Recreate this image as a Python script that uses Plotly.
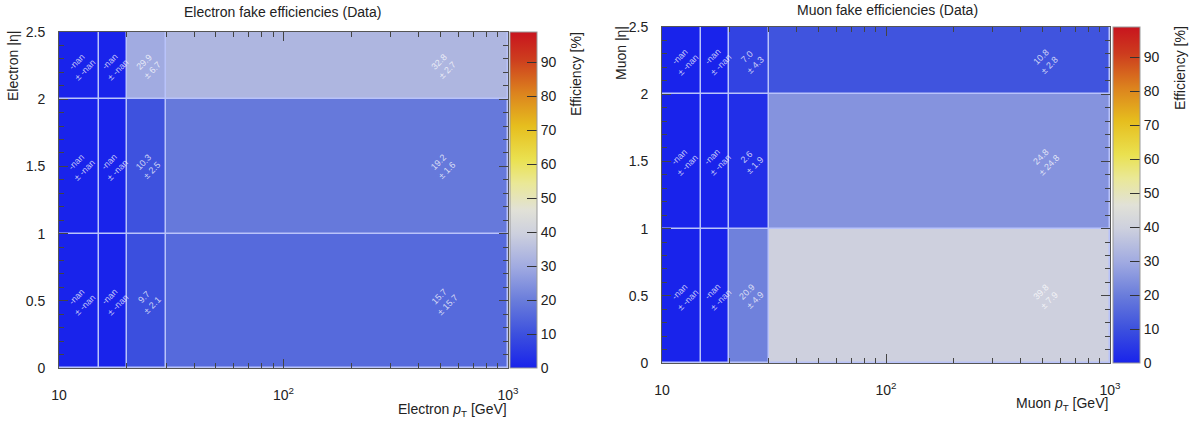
import numpy as np
import plotly.graph_objects as go

# ---------------- data ----------------
pt_edges = [10, 15, 20, 30, 1000]
eta_edges = [0, 1, 2, 2.5]

# efficiencies [%] (rows: |eta| bins from low to high, cols: pT bins); None = -nan
ele_eff = [[None, None, 9.7, 15.7],
           [None, None, 10.3, 19.2],
           [None, None, 29.9, 32.8]]
ele_err = [[None, None, 2.1, 15.7],
           [None, None, 2.5, 1.6],
           [None, None, 6.7, 2.7]]

mu_eff = [[None, None, 20.9, 39.8],
          [None, None, 2.6, 24.8],
          [None, None, 7.0, 10.8]]
mu_err = [[None, None, 4.9, 7.9],
          [None, None, 1.9, 24.8],
          [None, None, 4.3, 2.8]]

cbar_ticks = [0, 10, 20, 30, 40, 50, 60, 70, 80, 90]
x_tickvals = [10, 100, 1000]
x_ticktext = ["10", "10<sup>2</sup>", "10<sup>3</sup>"]
zmax = 99

# ---------------- style ----------------
W, H = 1195, 425
FONT = "Liberation Sans, Arial, Helvetica, sans-serif"
TXT = "#222222"


def px(x):
    return x / W


def py(y):
    return 1 - y / H


colorscale = [
    [0.00, "rgb(25,35,235)"],
    [0.10, "rgb(60,80,222)"],
    [0.20, "rgb(105,124,219)"],
    [0.30, "rgb(160,170,225)"],
    [0.40, "rgb(205,208,222)"],
    [0.47, "rgb(225,225,215)"],
    [0.55, "rgb(234,232,150)"],
    [0.62, "rgb(234,225,80)"],
    [0.72, "rgb(230,190,30)"],
    [0.82, "rgb(220,130,30)"],
    [0.92, "rgb(205,60,30)"],
    [1.00, "rgb(200,20,30)"],
]


def zvals(eff):
    return [[0 if v is None else v for v in row] for row in eff]


fig = go.Figure()
fig.add_trace(go.Heatmap(x=pt_edges, y=eta_edges, z=zvals(ele_eff), coloraxis="coloraxis",
                         xaxis="x", yaxis="y", xgap=1.5, ygap=1.5, hoverinfo="skip"))
fig.add_trace(go.Heatmap(x=pt_edges, y=eta_edges, z=zvals(mu_eff), coloraxis="coloraxis2",
                         xaxis="x2", yaxis="y2", xgap=1.5, ygap=1.5, hoverinfo="skip"))

annotations = []


def cell_labels(eff, err, xref, yref):
    for i in range(len(eta_edges) - 1):
        yc = (eta_edges[i] + eta_edges[i + 1]) / 2
        for j in range(len(pt_edges) - 1):
            xc = (pt_edges[j] + pt_edges[j + 1]) / 2
            v, e = eff[i][j], err[i][j]
            if v is None:
                t = "-nan<br>± -nan"
            else:
                t = f"{v:.1f}<br>± {e:.1f}"
            annotations.append(dict(x=np.log10(xc), y=yc, xref=xref, yref=yref, text=t,
                                    showarrow=False, textangle=-45,
                                    font=dict(family=FONT, size=9, color="rgba(255,255,255,0.75)")))


cell_labels(ele_eff, ele_err, "x", "y")
cell_labels(mu_eff, mu_err, "x2", "y2")


def txt(x, y, t, size=14, angle=0, xa="center", ya="middle"):
    annotations.append(dict(x=px(x), y=py(y), xref="paper", yref="paper", text=t, showarrow=False,
                            textangle=angle, xanchor=xa, yanchor=ya,
                            font=dict(family=FONT, size=size, color=TXT)))


# titles
txt(282, 12, "Electron fake efficiencies (Data)", 14)
txt(887, 10, "Muon fake efficiencies (Data)", 14)
# y labels
txt(13, 29, "Electron |η|", 14, -90, "center", "top")
txt(621, 24, "Muon |η|", 14, -90, "center", "top")
# x labels
txt(509, 410, "Electron <i>p</i><sub>T</sub> [GeV]", 14, 0, "right")
txt(1110, 404, "Muon <i>p</i><sub>T</sub> [GeV]", 14, 0, "right")
# colorbar titles
txt(576, 30, "Efficiency [%]", 14, -90, "center", "top")
txt(1180, 24, "Efficiency [%]", 14, -90, "center", "top")

minor_x = [20, 30, 40, 50, 60, 70, 80, 90, 200, 300, 400, 500, 600, 700, 800, 900]


def xaxis(dom, anchor):
    return dict(domain=dom, anchor=anchor, type="log", range=[1, 3], tickvals=x_tickvals,
                ticktext=x_ticktext, ticks="inside", ticklen=9, tickcolor="#444", tickwidth=1,
                showline=True, linecolor="#555", linewidth=1, mirror="ticks", showgrid=False,
                zeroline=False, tickfont=dict(family=FONT, size=14, color=TXT),
                ticklabelstandoff=14, automargin=False,
                minor=dict(tickvals=minor_x, ticks="inside", ticklen=5, tickcolor="#444", showgrid=False))


def yaxis(dom, anchor):
    return dict(domain=dom, anchor=anchor, range=[0, 2.5], dtick=0.5, tick0=0,
                ticks="inside", ticklen=9, tickcolor="#444", tickwidth=1,
                showline=True, linecolor="#555", linewidth=1, mirror="ticks", showgrid=False,
                zeroline=False, tickfont=dict(family=FONT, size=14, color=TXT),
                ticklabelstandoff=10, automargin=False,
                minor=dict(dtick=0.1, ticks="inside", ticklen=5, tickcolor="#444", showgrid=False))


def cbar(x_left, y_top, length):
    return dict(x=px(x_left), xanchor="left", y=py(y_top), yanchor="top", len=length,
                lenmode="pixels", thickness=27, thicknessmode="pixels", xpad=0, ypad=0,
                outlinewidth=1, outlinecolor="#999", ticks="inside", ticklen=10, tickcolor="#333",
                tickvals=cbar_ticks, tickfont=dict(family=FONT, size=14, color=TXT))


fig.update_layout(
    width=W, height=H, margin=dict(l=0, r=0, t=0, b=0, autoexpand=False),
    paper_bgcolor="white", plot_bgcolor="rgb(185,195,250)",
    showlegend=False,
    xaxis=xaxis([px(59), px(508)], "y"),
    yaxis=yaxis([py(368), py(32)], "x"),
    xaxis2=xaxis([px(662), px(1110)], "y2"),
    yaxis2=yaxis([py(363), py(27)], "x2"),
    coloraxis=dict(cmin=0, cmax=zmax, colorscale=colorscale, colorbar=cbar(510, 32, 336)),
    coloraxis2=dict(cmin=0, cmax=zmax, colorscale=colorscale, colorbar=cbar(1113, 27, 336)),
    annotations=annotations,
)

fig.write_html("out.html")
